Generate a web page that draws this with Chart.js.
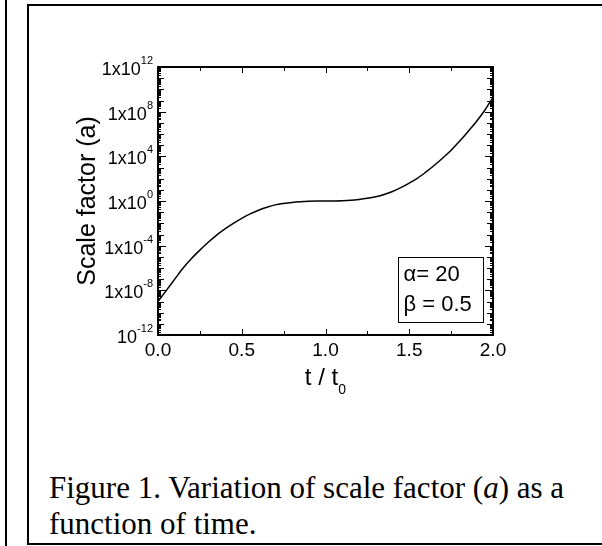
<!DOCTYPE html>
<html>
<head>
<meta charset="utf-8">
<script src="https://cdn.jsdelivr.net/npm/chart.js@4"></script>
<style>
  html, body { margin: 0; padding: 0; background: #fff; overflow: hidden; }
  body { width: 602px; height: 546px; position: relative; }
  #leftrule { position: absolute; left: 5px; top: 0; width: 2px; height: 546px; background: #000; }
  #frame { position: absolute; left: 27px; top: 4px; width: 600px; height: 537px; border: 2px solid #000; }
  #plot { position: absolute; left: 0; top: 0; }
  #caption {
    position: absolute; left: 49px; top: 470px; width: 560px;
    font-family: "Liberation Serif", "Times New Roman", serif; font-size: 31px; line-height: 36px; color: #000;
  }
</style>
</head>
<body>
<div id="leftrule"></div>
<div id="frame"></div>
<canvas id="plot" width="602" height="420"></canvas>
<div id="caption">Figure 1. Variation of scale factor (<i>a</i>) as a<br>function of time.</div>
<script>
// time in units of t0
var tValues = [0.00, 0.05, 0.10, 0.15, 0.20, 0.25, 0.30, 0.35, 0.40, 0.45,
               0.50, 0.55, 0.60, 0.65, 0.70, 0.75, 0.80, 0.85, 0.90, 0.95,
               1.00, 1.05, 1.10, 1.15, 1.20, 1.25, 1.30, 1.35, 1.40, 1.45,
               1.50, 1.55, 1.60, 1.65, 1.70, 1.75, 1.80, 1.85, 1.90, 1.95, 2.00];
// scale factor a
var aValues = [1.0e-9, 1.0e-8, 1.0e-7, 1.0e-6, 7.1e-6, 4.0e-5, 2.0e-4, 8.9e-4, 3.2e-3, 1.0e-2,
               2.8e-2, 7.1e-2, 0.15, 0.28, 0.45, 0.60, 0.74, 0.85, 0.93, 0.98,
               1.0, 1.02, 1.07, 1.17, 1.38, 1.74, 2.4, 3.8, 7.1, 15.8,
               40, 112, 398, 1.58e3, 7.1e3, 3.5e4, 2.2e5, 1.6e6, 1.26e7, 1.26e8, 2.0e9];

var xTicks = [0, 0.5, 1.0, 1.5, 2.0];
var xTickLabels = ['0.0', '0.5', '1.0', '1.5', '2.0'];
var yTicks = [1e12, 1e8, 1e4, 1e0, 1e-4, 1e-8, 1e-12];
var yTickBase = ['1x10', '1x10', '1x10', '1x10', '1x10', '1x10', '10'];
var yTickExp = ['12', '8', '4', '0', '-4', '-8', '-12'];
var legendLines = ['\u03b1= 20', '\u03b2 = 0.5'];

var sans = '"Liberation Sans", Arial, Helvetica, sans-serif';

var points = tValues.map(function (t, i) { return { x: t, y: aValues[i] }; });

// frame, inward ticks, labels and the parameter box
var decor = {
  id: 'decor',
  afterDatasetsDraw: function (chart) {
    var ctx = chart.ctx, a = chart.chartArea, xs = chart.scales.x, ys = chart.scales.y;
    ctx.save();
    ctx.strokeStyle = '#000';
    ctx.fillStyle = '#000';

    // x ticks, bottom and top
    ctx.lineWidth = 1;
    for (var k = 0; k <= 8; k++) {
      var xv = k * 0.25;
      var px = Math.round(xs.getPixelForValue(xv)) + 0.5;
      var len = (k % 2 === 0) ? 6 : 4;
      ctx.beginPath();
      ctx.moveTo(px, a.bottom); ctx.lineTo(px, a.bottom - len);
      ctx.moveTo(px, a.top); ctx.lineTo(px, a.top + len);
      ctx.stroke();
    }

    // y ticks, left and right (log minors)
    for (var e = -12; e <= 12; e++) {
      for (var m = 1; m <= 9; m++) {
        if (e === 12 && m > 1) break;
        var v = m * Math.pow(10, e);
        var py = Math.round(ys.getPixelForValue(v)) + 0.5;
        var l = 3;
        if (m === 1) l = (e % 4 === 0) ? 8 : 6;
        ctx.beginPath();
        ctx.moveTo(a.left, py); ctx.lineTo(a.left + l, py);
        ctx.moveTo(a.right, py); ctx.lineTo(a.right - l, py);
        ctx.stroke();
      }
    }

    // box
    ctx.lineWidth = 2;
    ctx.strokeRect(a.left, a.top, a.right - a.left, a.bottom - a.top);

    // x tick labels
    ctx.font = '19px ' + sans;
    ctx.textAlign = 'center';
    ctx.textBaseline = 'middle';
    xTicks.forEach(function (v, i) {
      ctx.fillText(xTickLabels[i], xs.getPixelForValue(v), a.bottom + 16);
    });

    // y tick labels with superscripts
    yTicks.forEach(function (v, i) {
      var py = ys.getPixelForValue(v);
      var right = a.left - 5;
      ctx.font = '11px ' + sans;
      var ew = ctx.measureText(yTickExp[i]).width;
      ctx.font = '18px ' + sans;
      var bw = ctx.measureText(yTickBase[i]).width;
      ctx.textAlign = 'left';
      ctx.fillText(yTickBase[i], right - ew - bw, py + 3);
      ctx.font = '11px ' + sans;
      ctx.fillText(yTickExp[i], right - ew, py - 6);
    });

    // axis titles
    ctx.font = '24px ' + sans;
    ctx.textAlign = 'left';
    var tw = ctx.measureText('t / t').width;
    var cx = (a.left + a.right) / 2;
    ctx.fillText('t / t', cx - tw / 2 - 4, a.bottom + 43);
    ctx.font = '14px ' + sans;
    ctx.fillText('0', cx + tw / 2 - 4, a.bottom + 55);

    ctx.save();
    ctx.translate(a.left - 70, (a.top + a.bottom) / 2);
    ctx.rotate(-Math.PI / 2);
    ctx.font = '25px ' + sans;
    ctx.textAlign = 'center';
    ctx.fillText('Scale factor (a)', 0, 0);
    ctx.restore();

    // parameter box
    var bx = xs.getPixelForValue(1.43), by = ys.getPixelForValue(1e-5);
    var bx2 = xs.getPixelForValue(1.94), by2 = ys.getPixelForValue(1.5e-11);
    ctx.fillStyle = '#fff';
    ctx.fillRect(bx, by, bx2 - bx, by2 - by);
    ctx.lineWidth = 1;
    ctx.strokeRect(Math.round(bx) + 0.5, Math.round(by) + 0.5, Math.round(bx2 - bx), Math.round(by2 - by));
    ctx.fillStyle = '#000';
    ctx.font = '22px ' + sans;
    ctx.textAlign = 'left';
    ctx.fillText(legendLines[0], bx + 6, by + 18);
    ctx.fillText(legendLines[1], bx + 6, by + 48);

    ctx.restore();
  }
};

new Chart(document.getElementById('plot'), {
  type: 'line',
  data: {
    datasets: [{
      data: points,
      borderColor: '#000',
      borderWidth: 1.5,
      pointRadius: 0,
      fill: false,
      cubicInterpolationMode: 'monotone'
    }]
  },
  options: {
    responsive: false,
    animation: false,
    layout: { padding: { left: 158, top: 67, right: 109, bottom: 85 } },
    plugins: { legend: { display: false }, tooltip: { enabled: false } },
    scales: {
      x: { type: 'linear', min: 0, max: 2, display: false },
      y: { type: 'logarithmic', min: 1e-12, max: 1e12, display: false }
    }
  },
  plugins: [decor]
});
</script>
</body>
</html>
